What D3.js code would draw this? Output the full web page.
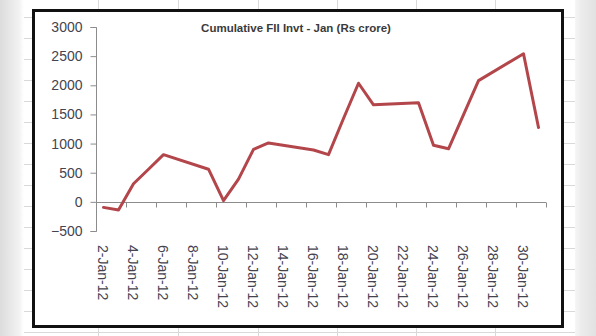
<!DOCTYPE html>
<html><head><meta charset="utf-8">
<script src="https://cdn.jsdelivr.net/npm/d3@7"></script>
<style>html,body{margin:0;padding:0;background:#fff;}svg{display:block;}</style>
</head><body>
<svg id="c" width="596" height="336"></svg>
<script>
// ---- data ----
const dates = ["2012-01-02","2012-01-03","2012-01-04","2012-01-05","2012-01-06",
  "2012-01-09","2012-01-10","2012-01-11","2012-01-12","2012-01-13",
  "2012-01-16","2012-01-17","2012-01-18","2012-01-19","2012-01-20",
  "2012-01-23","2012-01-24","2012-01-25","2012-01-27","2012-01-30","2012-01-31"];
const values = [-95,-140,310,560,810,
  560,20,390,900,1010,
  890,810,1430,2035,1665,
  1700,970,910,2080,2540,1275];
const yTicks = [-500,0,500,1000,1500,2000,2500,3000];
const xTickLabels = ["2-Jan-12","4-Jan-12","6-Jan-12","8-Jan-12","10-Jan-12","12-Jan-12",
  "14-Jan-12","16-Jan-12","18-Jan-12","20-Jan-12","22-Jan-12","24-Jan-12",
  "26-Jan-12","28-Jan-12","30-Jan-12"];
const title = "Cumulative FII Invt - Jan (Rs crore)";

const svg = d3.select("#c");
const W = 596, H = 336;

// ---- spreadsheet background ----
const defs = svg.append("defs");
const gl = defs.append("linearGradient").attr("id","gl");
gl.append("stop").attr("offset","0%").attr("stop-color","#dcdcdc");
gl.append("stop").attr("offset","80%").attr("stop-color","#f2f2f2");
gl.append("stop").attr("offset","100%").attr("stop-color","#ffffff");
const gr = defs.append("linearGradient").attr("id","gr");
gr.append("stop").attr("offset","0%").attr("stop-color","#f6f6f6");
gr.append("stop").attr("offset","30%").attr("stop-color","#ececec");
gr.append("stop").attr("offset","100%").attr("stop-color","#e2e2e2");

svg.append("rect").attr("width",W).attr("height",H).attr("fill","#fff");
const grid = svg.append("g").attr("stroke","#d9d9d9").attr("stroke-width",1);
d3.range(16.5, H, 21).forEach(y => grid.append("line").attr("x1",23).attr("x2",575).attr("y1",Math.round(y)+0.5).attr("y2",Math.round(y)+0.5));
[98,178,258,337,416,495].forEach(x => grid.append("line").attr("x1",x+0.5).attr("x2",x+0.5).attr("y1",0).attr("y2",H));
svg.append("rect").attr("x",0).attr("y",0).attr("width",24).attr("height",H).attr("fill","url(#gl)");
svg.append("rect").attr("x",575).attr("y",0).attr("width",21).attr("height",H).attr("fill","url(#gr)");

// ---- chart frame ----
svg.append("rect").attr("x",33.5).attr("y",10.5).attr("width",529).attr("height",316)
  .attr("fill","#fff").attr("stroke","#111").attr("stroke-width",3);

// ---- scales ----
const parse = d3.utcParse("%Y-%m-%d");
const x = d3.scaleUtc()
  .domain([Date.UTC(2012,0,1,12), Date.UTC(2012,0,31,12)])
  .range([96, 546]);
const y = d3.scaleLinear().domain([-500, 3000]).range([231, 27]);

const FONT = "Liberation Sans, Arial, sans-serif";
const LBL = "#444450";

// ---- y axis ----
const yAxis = d3.axisLeft(y).tickValues(yTicks).tickSize(6).tickPadding(8).tickFormat(d3.format("d"));
const gy = svg.append("g").attr("transform","translate(96.5,0)").call(yAxis);
gy.select(".domain").attr("stroke","#8c8c8c").attr("d","M-6,27.5H0V231.5H-6");
gy.selectAll(".tick line").attr("stroke","#8c8c8c");
gy.selectAll(".tick text").attr("fill",LBL).attr("font-family",FONT).attr("font-size","14px");

// ---- x axis (at zero) ----
const tickDates = d3.range(0, 16).map(i => new Date(Date.UTC(2012,0,1,12) + i*2*864e5));
const xAxis = d3.axisBottom(x).tickValues(tickDates).tickSize(5).tickFormat("");
const gx = svg.append("g").attr("transform",`translate(0,${Math.round(y(0))+0.5})`).call(xAxis);
gx.select(".domain").attr("stroke","#8c8c8c").attr("d","M96,0H546");
gx.selectAll(".tick line").attr("stroke","#8c8c8c");

const labelDates = xTickLabels.map((_, i) => new Date(Date.UTC(2012,0,2 + i*2)));
svg.append("g").selectAll("text").data(xTickLabels).join("text")
  .attr("transform",(d,i) => `translate(${x(labelDates[i]) - 1},245) rotate(90)`)
  .attr("dy","0.35em")
  .attr("fill",LBL)
  .attr("font-family",FONT).attr("font-size","14px")
  .text(d => d);

// ---- title ----
svg.append("text").attr("x",296).attr("y",31.5).attr("text-anchor","middle")
  .attr("fill","#3a3a3a").attr("font-family",FONT)
  .attr("font-size","11.5px").attr("font-weight","bold").text(title);

// ---- line ----
const pts = dates.map((d,i) => [parse(d), values[i]]);
const line = d3.line().x(d => x(d[0])).y(d => y(d[1]));
svg.append("path").datum(pts).attr("d", line)
  .attr("fill","none").attr("stroke","#b3464a").attr("stroke-width",3)
  .attr("stroke-linejoin","round").attr("stroke-linecap","round");
</script>
</body></html>
